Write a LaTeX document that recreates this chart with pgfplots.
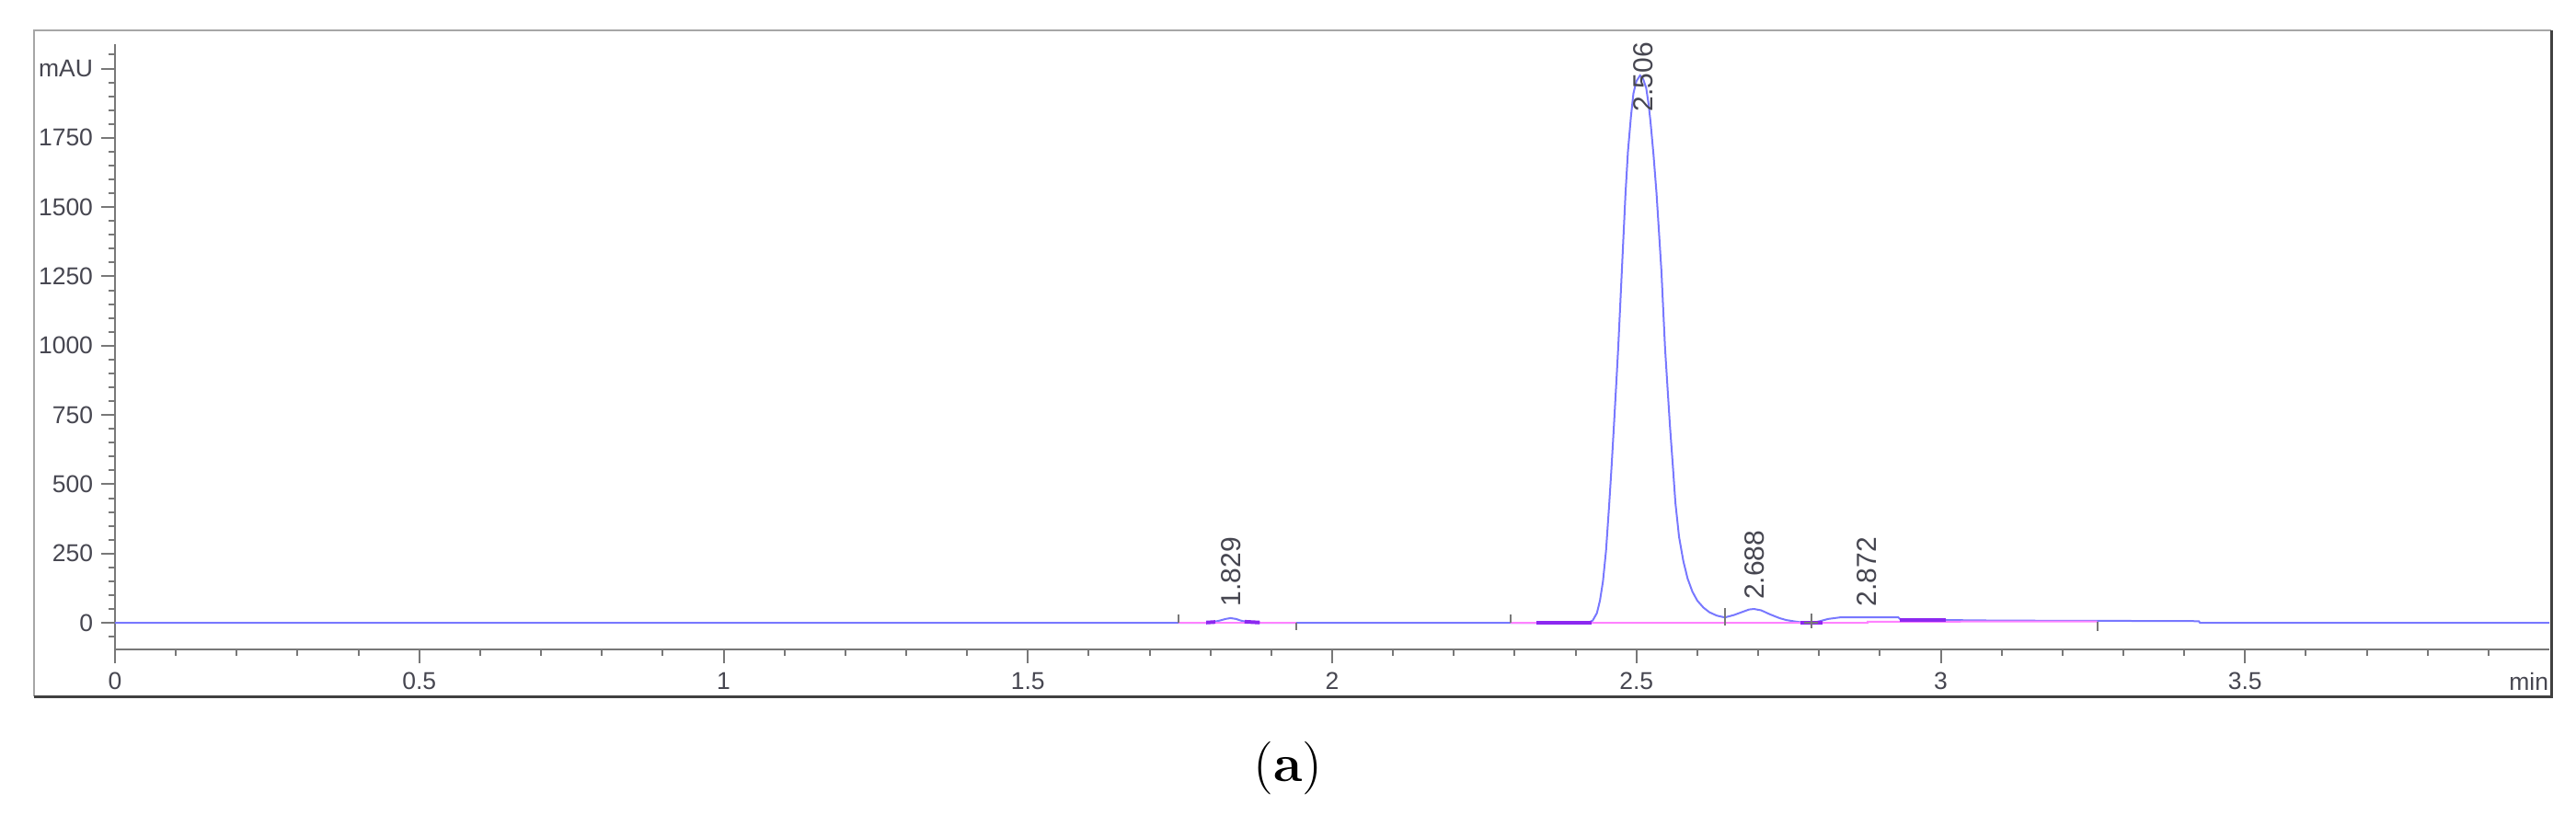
\documentclass[border=0pt]{standalone}
\usepackage{pgfplots}
\pgfplotsset{compat=1.18}
\usepackage{fontspec}
\newfontfamily\arial{Liberation Sans}
\definecolor{curve}{RGB}{120,120,255}
\definecolor{basel}{RGB}{255,130,255}
\definecolor{purp}{RGB}{140,40,240}
\definecolor{axgray}{RGB}{120,120,120}
\definecolor{lblgray}{RGB}{70,70,80}
\begin{document}
\begin{tikzpicture}
\path[use as bounding box] (0,0) rectangle (560pt,177pt);
\draw[gray!70, line width=0.3pt] (7.4pt,25.6pt) -- (7.4pt,170.4pt) -- (554.6pt,170.4pt);
\draw[black!75, line width=0.6pt] (7.4pt,25.6pt) -- (554.6pt,25.6pt) -- (554.6pt,170.4pt);
\begin{axis}[
  at={(25pt,35.8pt)}, anchor=south west,
  scale only axis, width=529.2pt, height=131.6pt,
  xmin=0, xmax=4, ymin=-96, ymax=2088,
  axis lines=left,
  axis line style={-, axgray, line width=0.4pt},
  tick align=outside,
  major tick length=2.9pt, minor tick length=1.4pt,
  tick style={axgray, line width=0.4pt},
  xtick={0,0.5,1,1.5,2,2.5,3,3.5},
  xticklabels={0,0.5,1,1.5,2,2.5,3,3.5},
  minor xtick={0.1,0.2,0.3,0.4,0.6,0.7,0.8,0.9,1.1,1.2,1.3,1.4,1.6,1.7,1.8,1.9,2.1,2.2,2.3,2.4,2.6,2.7,2.8,2.9,3.1,3.2,3.3,3.4,3.6,3.7,3.8,3.9},
  ytick={0,250,500,750,1000,1250,1500,1750,2000},
  yticklabels={0,250,500,750,1000,1250,1500,1750,mAU},
  minor ytick={-50,50,100,150,200,300,350,400,450,550,600,650,700,800,850,900,950,1050,1100,1150,1200,1300,1350,1400,1450,1550,1600,1650,1700,1800,1850,1900,1950,2050},
  ticklabel style={font=\arial\fontsize{5.3}{6}\selectfont, text=lblgray, inner sep=0pt},
  yticklabel style={xshift=-1.7pt},
  xticklabel style={yshift=-1.9pt},
  clip=false,
]
% chromatogram
\addplot[curve, line width=0.4pt] coordinates {
(0,0) (1.793,0) (1.805,3) (1.815,8) (1.825,14) (1.833,17) (1.842,14) (1.850,8) (1.860,3) (1.870,1) (1.880,0)
(2.420,0) (2.428,8) (2.435,35) (2.440,80) (2.445,150) (2.450,260) (2.455,420) (2.459,560) (2.463,712) (2.467,870)
(2.470,991) (2.473,1130) (2.476,1270) (2.479,1410) (2.482,1549) (2.486,1700) (2.491,1828) (2.495,1910) (2.500,1955)
(2.506,1975) (2.511,1962) (2.516,1930) (2.520,1870) (2.523,1810) (2.528,1690) (2.533,1549) (2.537,1410) (2.541,1270)
(2.544,1130) (2.547,991) (2.551,850) (2.555,712) (2.560,560) (2.564,433) (2.570,310) (2.577,223) (2.584,160)
(2.592,112) (2.600,80) (2.610,55) (2.620,38) (2.632,26) (2.642,21) (2.648,21) (2.660,28) (2.675,40) (2.685,48)
(2.693,50) (2.705,45) (2.720,30) (2.735,17) (2.746,10) (2.760,5) (2.773,1) (2.790,0) (2.805,8) (2.815,14)
(2.836,20) (2.930,20) (2.935,10) (3.008,10) (3.100,8) (3.300,7) (3.424,6) (3.426,0) (4.0,0)
};
% baselines
\addplot[basel, line width=0.4pt] coordinates {(1.747,0) (1.941,0)};
\addplot[basel, line width=0.4pt] coordinates {(2.293,0) (2.880,0) (2.880,4) (3.257,5)};
% peak start/end markers (thick)
\addplot[purp, line width=0.8pt] coordinates {(1.793,1) (1.808,3)};
\addplot[purp, line width=0.8pt] coordinates {(1.856,4) (1.881,1)};
\addplot[purp, line width=0.8pt] coordinates {(2.336,1) (2.427,1)};
\addplot[purp, line width=0.8pt] coordinates {(2.769,1) (2.806,1)};
\addplot[purp, line width=0.8pt] coordinates {(2.932,10) (3.008,10)};
% integration event ticks
\addplot[axgray, line width=0.4pt] coordinates {(1.747,0) (1.747,30)};
\addplot[axgray, line width=0.4pt] coordinates {(1.941,0) (1.941,-27)};
\addplot[axgray, line width=0.4pt] coordinates {(2.293,0) (2.293,30)};
\addplot[axgray, line width=0.4pt] coordinates {(2.646,53) (2.646,-10)};
\addplot[axgray, line width=0.4pt] coordinates {(2.787,33) (2.787,-20)};
\addplot[axgray, line width=0.4pt] coordinates {(2.776,1) (2.798,1)};
\addplot[axgray, line width=0.4pt] coordinates {(3.257,5) (3.257,-30)};
% retention time labels
\node[rotate=90, anchor=west, inner sep=0pt, text=lblgray, font=\arial\fontsize{6}{7}\selectfont] at (axis cs:1.834,56) {1.829};
\node[rotate=90, anchor=west, inner sep=0pt, text=lblgray, font=\arial\fontsize{6}{7}\selectfont] at (axis cs:2.511,1842) {2.506};
\node[rotate=90, anchor=west, inner sep=0pt, text=lblgray, font=\arial\fontsize{6}{7}\selectfont] at (axis cs:2.694,80) {2.688};
\node[rotate=90, anchor=west, inner sep=0pt, text=lblgray, font=\arial\fontsize{6}{7}\selectfont] at (axis cs:2.879,56) {2.872};
\node[anchor=north east, inner sep=0pt, text=lblgray, font=\arial\fontsize{5.3}{6}\selectfont] at ([yshift=-4.8pt]rel axis cs:1,0) {min};
\end{axis}
\node[font=\fontsize{11.5}{13}\selectfont] at (280pt,10pt) {(\textbf{a})};
\end{tikzpicture}
\end{document}
